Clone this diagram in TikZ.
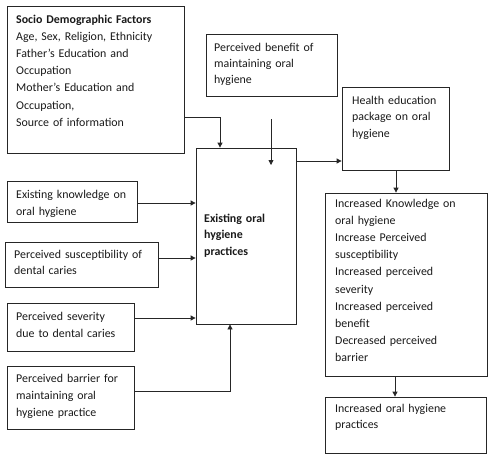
\documentclass[tikz,border=0pt]{standalone}
\usepackage{fontspec}
\setmainfont{Carlito}
\usetikzlibrary{arrows.meta,fit}
\begin{document}
\begin{tikzpicture}[x=1pt,y=-1pt,
  box/.style={draw=black!85, line width=0.8pt, inner sep=0pt},
  txt/.style={inner sep=0pt, anchor=base west, align=left, text width=170pt,
    font=\fontsize{11.9}{17.2}\selectfont, text=black!90},
  arr/.style={line width=0.8pt, draw=black!85, -{Triangle[length=5pt,width=5pt]}}]
\useasboundingbox (0,0) rectangle (494,461);
% boxes
\node[box, fit={(7,6) (184,153)}] (socio) {};
\node[box, fit={(206,34) (337,96)}] (benefit) {};
\node[box, fit={(342,87) (449,170)}] (health) {};
\node[box, fit={(196,148) (296,324)}] (central) {};
\node[box, fit={(325,193) (487,376)}] (inc) {};
\node[box, fit={(325,397) (486,453)}] (final) {};
\node[box, fit={(7,181) (137,222)}] (know) {};
\node[box, fit={(5,242) (158,287)}] (susc) {};
\node[box, fit={(7,303) (134,351)}] (sev) {};
\node[box, fit={(7,366) (134,429)}] (bar) {};
% texts
\node[txt] (tsocio) at (16,23) {\textbf{Socio Demographic Factors}\\Age, Sex, Religion, Ethnicity\\Father’s Education and\\Occupation\\Mother’s Education and\\Occupation,\\Source of information};
\node[txt, font=\fontsize{11.9}{16.2}\selectfont] (tbenefit) at (214,51) {Perceived benefit of\\maintaining oral\\hygiene};
\node[txt, font=\fontsize{11.9}{16.6}\selectfont] (thealth) at (352,104) {Health education\\package on oral\\hygiene};
\node[txt, font=\bfseries\fontsize{11.9}{16.5}\selectfont] (tcentral) at (204,222) {Existing oral\\hygiene\\practices};
\node[txt] (tinc) at (335,207) {Increased Knowledge on\\oral hygiene\\Increase Perceived\\susceptibility\\Increased perceived\\severity\\Increased perceived\\benefit\\Decreased perceived\\barrier};
\node[txt, font=\fontsize{11.9}{16.5}\selectfont] (tfinal) at (335,412) {Increased oral hygiene\\practices};
\node[txt] (tknow) at (16,198) {Existing knowledge on\\oral hygiene};
\node[txt, font=\fontsize{11.9}{16.5}\selectfont] (tsusc) at (14,258) {Perceived susceptibility of\\dental caries};
\node[txt] (tsev) at (16,320) {Perceived severity\\due to dental caries};
\node[txt] (tbar) at (16,382) {Perceived barrier for\\maintaining oral\\hygiene practice};
% connectors
\coordinate (bstart) at (271,119);
\coordinate (bend) at (271,165);
\draw[arr] (socio.east |- 0,117) -| (220,0 |- central.north);
\draw[arr] (bstart) -- (bend);
\draw[arr] (central.east |- 0,161) -- (health.west |- 0,161);
\draw[arr] (396,0 |- health.south) -- (396,0 |- inc.north);
\draw[arr] (395,0 |- inc.south) -- (395,0 |- final.north);
\draw[arr] (know.east |- 0,203) -- (central.west |- 0,203);
\draw[arr] (susc.east |- 0,258) -- (central.west |- 0,258);
\draw[arr] (sev.east |- 0,318) -- (central.west |- 0,318);
\draw[arr] (bar.east |- 0,391) -| (230,0 |- central.south);
\end{tikzpicture}
\end{document}
